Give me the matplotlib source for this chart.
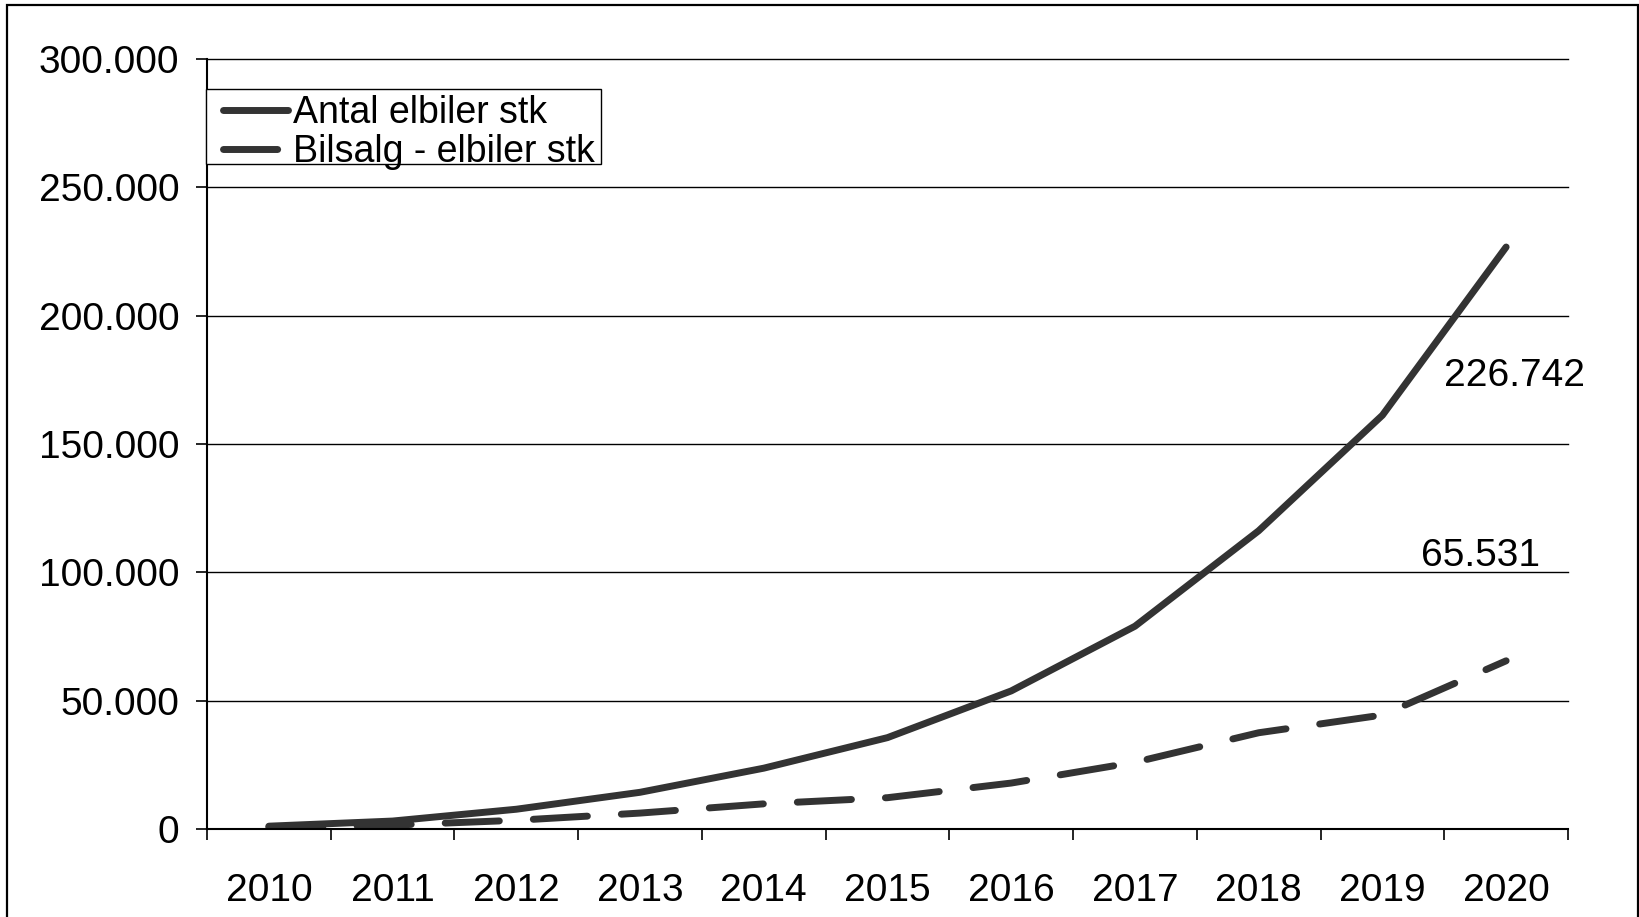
import matplotlib
matplotlib.use("Agg")
import matplotlib.pyplot as plt
from matplotlib.patches import Rectangle
from matplotlib.ticker import FuncFormatter, FixedLocator

plt.rcParams['font.family'] = ['Liberation Sans', 'DejaVu Sans']

# Data
years = ["2010", "2011", "2012", "2013", "2014", "2015",
         "2016", "2017", "2018", "2019", "2020"]
antal_elbiler = [1100, 3100, 7700, 14300, 23700, 35600,
                 53800, 79000, 116200, 161200, 226742]
bilsalg_elbiler = [700, 1500, 3400, 6200, 9800, 12200,
                   17900, 26000, 37500, 44400, 65531]
series_names = ["Antal elbiler stk", "Bilsalg - elbiler stk"]
y_ticks = [0, 50000, 100000, 150000, 200000, 250000, 300000]

W, H = 1640, 917
fig = plt.figure(figsize=(W / 100, H / 100), dpi=100)
fig.patch.set_facecolor("white")

left, right, top, bottom = 207, 1568, 59, 829
ax = fig.add_axes([left / W, 1 - bottom / H, (right - left) / W, (bottom - top) / H])

x = list(range(len(years)))
ax.set_xlim(-0.5, len(years) - 0.5)
ax.set_ylim(0, 300000)

# Horizontal gridlines
for v in y_ticks[1:]:
    ax.axhline(v, color="black", lw=1.0, zorder=1, clip_on=False)

line_color = "#333333"
lw = 5
ax.plot(x, antal_elbiler, color=line_color, lw=lw,
        solid_capstyle="round", solid_joinstyle="round", zorder=3,
        label=series_names[0])
ax.plot(x, bilsalg_elbiler, color=line_color, lw=lw,
        dashes=(39 / lw, 24.5 / lw), dash_capstyle="round",
        dash_joinstyle="round", zorder=3, label=series_names[1])

# Spines
for s in ("top", "right"):
    ax.spines[s].set_visible(False)
for s in ("left", "bottom"):
    ax.spines[s].set_color("black")
    ax.spines[s].set_linewidth(1.5)
ax.spines["left"].set_zorder(4)
ax.spines["bottom"].set_zorder(4)

# Y axis
ax.yaxis.set_major_locator(FixedLocator(y_ticks))
ax.yaxis.set_major_formatter(
    FuncFormatter(lambda v, p: f"{int(v):,}".replace(",", ".")))
ax.tick_params(axis="y", direction="out", length=8, width=1.2,
               pad=12, labelsize=28, colors="black")

# X axis: labels at category centers, ticks between categories
ax.set_xticks(x)
ax.set_xticklabels(years)
ax.xaxis.set_minor_locator(FixedLocator([i - 0.5 for i in range(len(years) + 1)]))
ax.tick_params(axis="x", which="major", length=0, pad=31.5, labelsize=28)
ax.tick_params(axis="x", which="minor", direction="out", length=8, width=1.2)

# Value labels for the last year
ax.annotate(f"{antal_elbiler[-1]:,}".replace(",", "."),
            xy=(x[-1], antal_elbiler[-1]), xytext=(8, -129),
            textcoords="offset pixels", ha="center", va="center", fontsize=28)
ax.annotate(f"{bilsalg_elbiler[-1]:,}".replace(",", "."),
            xy=(x[-1], bilsalg_elbiler[-1]), xytext=(-26, 105),
            textcoords="offset pixels", ha="center", va="center", fontsize=28)

# Legend box (frame drawn separately so its padding can differ per side)
box_l, box_t, box_r, box_b = 206, 89, 601, 164
ax.add_patch(Rectangle((box_l / W, 1 - box_b / H), (box_r - box_l) / W,
                       (box_b - box_t) / H, transform=fig.transFigure,
                       facecolor="white", edgecolor="black", lw=1.0,
                       zorder=4.5, clip_on=False))
leg = ax.legend(loc="upper left", bbox_to_anchor=(215 / W, 1 - 93.5 / H),
                bbox_transform=fig.transFigure,
                borderaxespad=0, fontsize=27, frameon=False,
                handlelength=1.92, handletextpad=0.13, borderpad=0.03,
                labelspacing=0.1)
leg.set_zorder(5)
for h in leg.get_lines():
    h.set_solid_capstyle("round")
    h.set_dash_capstyle("round")
    xd = [float(v) for v in h.get_xdata()]
    if len(xd) >= 2:
        x0, span = xd[0], xd[-1] - xd[0]
        h.set_xdata([x0 + 0.09 * span + (v - x0) * 0.91 for v in xd])

# Outer chart border
fig.add_artist(Rectangle((7.3 / W, -0.05), (1638 - 7.3) / W, 1 - 5 / H + 0.05,
                         transform=fig.transFigure, fill=False,
                         lw=1.6, ec="black"))

fig.savefig("out.png", dpi=100, facecolor="white")
